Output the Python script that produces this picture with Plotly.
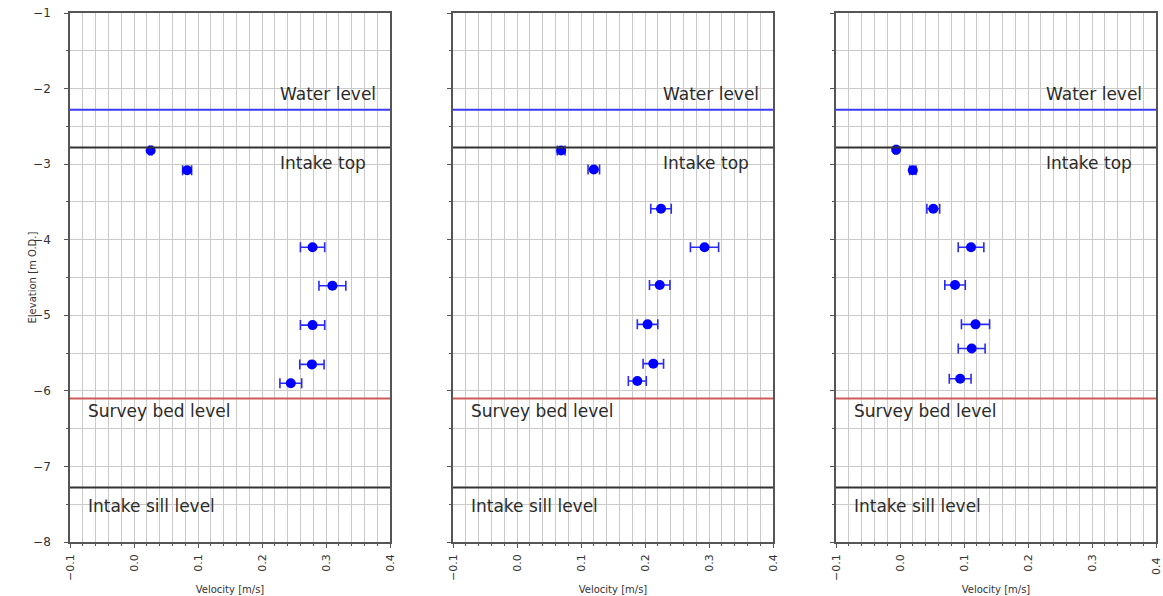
import plotly.graph_objects as go

# ---------------- data ----------------
elev1 = [-2.82, -3.08, -4.10, -4.61, -5.13, -5.65, -5.90]
vel1 = [0.026, 0.083, 0.279, 0.310, 0.279, 0.278, 0.245]
err1 = [0.002, 0.007, 0.019, 0.021, 0.019, 0.019, 0.017]

elev2 = [-2.82, -3.07, -3.59, -4.10, -4.60, -5.12, -5.64, -5.87]
vel2 = [0.069, 0.120, 0.225, 0.293, 0.223, 0.204, 0.213, 0.188]
err2 = [0.006, 0.009, 0.016, 0.022, 0.016, 0.016, 0.016, 0.014]

elev3 = [-2.81, -3.08, -3.59, -4.10, -4.60, -5.12, -5.44, -5.84]
vel3 = [-0.006, 0.020, 0.052, 0.111, 0.086, 0.118, 0.112, 0.094]
err3 = [0.002, 0.005, 0.010, 0.020, 0.016, 0.022, 0.021, 0.017]

level_names = ["Water level", "Intake top", "Survey bed level", "Intake sill level"]
level_values = [-2.28, -2.78, -6.10, -7.28]
level_colors = ["#3b3bf5", "#333333", "#cf5a5a", "#333333"]
label_x = [0.225, 0.225, -0.075, -0.075]
label_y = [-2.07, -2.99, -6.27, -7.53]

x_range = [-0.1, 0.4]
y_range = [-8, -1]
x_tickvals = [-0.1, 0.0, 0.1, 0.2, 0.3, 0.4]
x_ticktext = ["\u22120.1", "0.0", "0.1", "0.2", "0.3", "0.4"]
y_tickvals = [-8, -7, -6, -5, -4, -3, -2, -1]
y_ticktext = ["\u22128", "\u22127", "\u22126", "\u22125", "\u22124", "\u22123", "\u22122", "\u22121"]
x_title = "Velocity [m/s]"
y_title = "Elevation [m O.D.]"

W, H = 1163, 596
panels_px = [(70, 390), (453, 773), (836, 1156)]
y_top, y_bot = 13, 542

FONT = "DejaVu Sans"
GRID = "#cacaca"
AXIS = "#555555"
TXT = "#333333"
TICKLEN = 4
TICK_STANDOFF = 2

fig = go.Figure()
series = [(vel1, elev1, err1), (vel2, elev2, err2), (vel3, elev3, err3)]

for i, (v, e, er) in enumerate(series):
    sfx = "" if i == 0 else str(i + 1)
    fig.add_trace(go.Scatter(
        x=v, y=e, mode="markers",
        marker=dict(color="#0000ff", size=10),
        error_x=dict(type="data", array=er, visible=True, color="#2a2af5",
                     thickness=1.6, width=5),
        xaxis="x" + sfx, yaxis="y" + sfx, showlegend=False,
    ))

layout = dict(
    width=W, height=H,
    margin=dict(l=0, r=0, t=0, b=0, autoexpand=False),
    paper_bgcolor="white", plot_bgcolor="white",
    font=dict(family=FONT, color=TXT),
    shapes=[], annotations=[],
)

for i, (x0, x1) in enumerate(panels_px):
    sfx = "" if i == 0 else str(i + 1)
    last = i == len(panels_px) - 1
    # the right-most tick label of the last panel touches the page edge and
    # is dropped by plotly, so it is drawn as an annotation below
    ttext = x_ticktext[:-1] + [""] if last else x_ticktext
    xa = dict(
        domain=[x0 / W, x1 / W], range=x_range, anchor="y" + sfx,
        tickmode="array", tickvals=x_tickvals, ticktext=ttext,
        tickangle=-90, tickfont=dict(size=11, family=FONT, color=TXT),
        ticks="outside", ticklen=TICKLEN, tickwidth=1.2, tickcolor=AXIS,
        showgrid=True, gridcolor=GRID, gridwidth=1.3,
        minor=dict(dtick=0.02, tick0=-0.1, showgrid=True, gridcolor=GRID,
                   gridwidth=1.3, ticks="outside", ticklen=2, tickcolor=AXIS),
        showline=True, linecolor=AXIS, linewidth=1.6, mirror=True,
        zeroline=False, ticklabelstandoff=TICK_STANDOFF, automargin=False,
        ticklabeloverflow="allow",
        title=dict(text=x_title, font=dict(size=10, family=FONT, color=TXT),
                   standoff=6),
    )
    ya = dict(
        domain=[(H - y_bot) / H, (H - y_top) / H], range=y_range, anchor="x" + sfx,
        tickmode="array", tickvals=y_tickvals,
        ticktext=y_ticktext if i == 0 else [""] * len(y_tickvals),
        tickfont=dict(size=12, family=FONT, color=TXT),
        ticks="outside", ticklen=4, tickwidth=1.2, tickcolor=AXIS,
        showgrid=True, gridcolor=GRID, gridwidth=1.3,
        minor=dict(dtick=0.5, tick0=-8, showgrid=True, gridcolor=GRID,
                   gridwidth=1.3, ticks="outside", ticklen=2, tickcolor=AXIS),
        showline=True, linecolor=AXIS, linewidth=1.6, mirror=True,
        zeroline=False, ticklabelstandoff=11, automargin=False,
        ticklabeloverflow="allow",
    )
    layout["xaxis" + sfx] = xa
    layout["yaxis" + sfx] = ya

    xr = "x" + sfx
    yr = "y" + sfx
    for name, val, col, lx, ly in zip(level_names, level_values, level_colors, label_x, label_y):
        layout["shapes"].append(dict(
            type="line", xref=xr + " domain", yref=yr, x0=0, x1=1, y0=val, y1=val,
            line=dict(color=col, width=2), layer="above"))
        layout["annotations"].append(dict(
            x=lx, y=ly, xref=xr, yref=yr, text=name, showarrow=False,
            xanchor="left", yanchor="middle",
            font=dict(size=17, family=FONT, color="#2b2b2b")))

    if last:
        layout["annotations"].append(dict(
            x=x_tickvals[-1], xref=xr,
            y=(H - (y_bot + 14)) / H, yref="paper",
            text=x_ticktext[-1], textangle=-90, showarrow=False,
            xanchor="center", yanchor="top", borderpad=0,
            font=dict(size=11, family=FONT, color=TXT)))

# y-axis title of the first panel
layout["annotations"].append(dict(
    x=32 / W, y=(H - (y_top + y_bot) / 2) / H, xref="paper", yref="paper",
    text=y_title, textangle=-90, showarrow=False, xanchor="center", yanchor="middle",
    font=dict(size=10, family=FONT, color=TXT)))

fig.update_layout(**layout)
fig.write_html("out.html")
